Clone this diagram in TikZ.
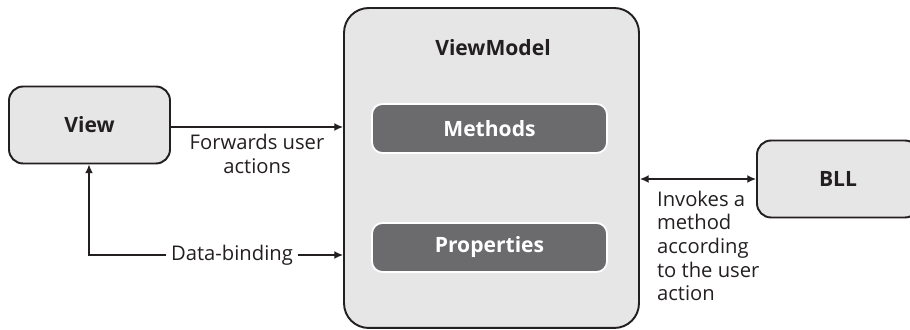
\documentclass[tikz,border=0pt]{standalone}
\usepackage{fontspec}
\setmainfont{Open Sans}
\usepackage{xcolor}
\usetikzlibrary{positioning,arrows.meta,calc}
\definecolor{boxgray}{HTML}{E6E6E7}
\definecolor{darkgray}{HTML}{6B6B6E}
\definecolor{inkgray}{HTML}{231F20}
\tikzset{
  box/.style={draw=inkgray, line width=1.1pt, fill=boxgray, rounded corners=8pt,
    font=\fontsize{12}{14}\selectfont\bfseries, text=inkgray,
    minimum width=3.22cm, minimum height=1.54cm},
  inner/.style={draw=white, line width=1pt, fill=darkgray, rounded corners=6pt,
    font=\fontsize{12}{14}\selectfont\bfseries, text=white,
    minimum width=4.7cm, minimum height=0.98cm},
  flow/.style={draw=inkgray, line width=0.8pt, -{Latex[length=5pt,width=4.5pt]}},
  lbl/.style={font=\fontsize{11.5}{13.4}\selectfont, text=inkgray, inner sep=1pt}
}
\begin{document}
\begin{tikzpicture}[x=0.02cm,y=-0.02cm]
\clip (0,0) rectangle (910,330);
% the three layers
\node[box, minimum width=5.9cm, minimum height=6.4cm, rounded corners=14pt] (vm) at (491.5,168) {};
\node[font=\fontsize{12}{14}\selectfont\bfseries, text=inkgray] (vmt) at (493,48) {ViewModel};
\node[inner] (meth) at (489.5,128.5) {Methods};
\node[inner] (prop) at (489.5,247.5) {Properties};
\node[box] (view) at (89.5,125) {View};
\node[box, minimum width=3.24cm] (bll) at (838,179) {BLL};
% connectors
\coordinate (fw) at (vm.west |- 0,127);
\draw[flow] (view.east |- fw) -- (fw);
\node[lbl, align=center] (fwl) at (257,154) {Forwards user\\actions};
\coordinate (db) at (vm.west |- 0,255);
\coordinate (dbc) at (89,255);
\node[lbl, fill=white, inner sep=3pt] (dbl) at (232,255) {Data-binding};
\draw[flow] (dbl.east) -- (db);
\draw[flow] (dbl.west) -- (dbc) -- (view.south -| dbc);
\draw[draw=inkgray, line width=0.8pt, {Latex[length=5pt,width=4.5pt]}-{Latex[length=5pt,width=4.5pt]}]
  (vm.east |- 0,179) -- (bll.west);
\node[lbl, align=left, anchor=north west] (inv) at (655,189) {Invokes a\\method\\according\\to the user\\action};
\end{tikzpicture}
\end{document}
